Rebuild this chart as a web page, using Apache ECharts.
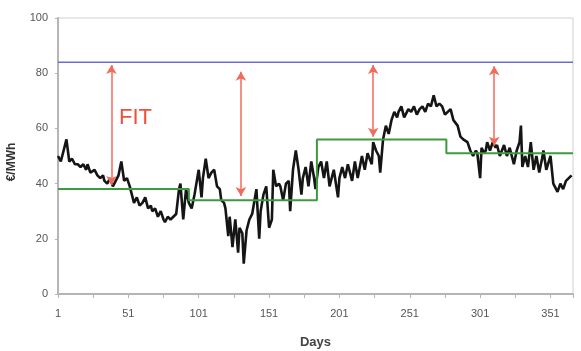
<!DOCTYPE html>
<html><head><meta charset="utf-8">
<script src="https://cdn.jsdelivr.net/npm/echarts@6/dist/echarts.min.js"></script>
<style>html,body{margin:0;padding:0;background:#fff}#c{width:581px;height:351px}</style>
</head><body><div id="c"></div>
<script>
const priceDays = [1,3,5,7,9,11,13,15,17,19,21,22,24,25,27,29,31,33,34,36,38,40,42,44,46,48,50,52,53,55,57,59,61,63,65,67,68,70,72,74,76,77,79,81,83,85,87,88,90,92,94,96,98,101,103,104,106,108,110,112,114,116,117,119,120,122,123,125,127,129,130,132,133,135,137,139,140,142,144,145,147,149,151,153,154,156,158,159,161,163,165,166,168,170,172,174,175,177,179,181,183,184,186,188,190,192,194,197,200,201,203,205,207,210,212,214,217,219,221,224,225,227,229,230,232,234,236,238,240,242,243,245,247,250,252,254,256,258,260,262,264,266,268,270,272,274,276,278,280,282,285,287,289,292,294,296,298,299,301,302,304,305,306,308,310,312,313,315,318,320,322,324,325,327,329,330,331,333,335,337,339,341,343,345,346,348,351,353,355,356,358,360,362,364,366];
const priceVals = [50,48,52,56,48,49,47,47,46,47,45,47,44,44,45,43,42,43,41,40,42,39,41,43,48,41,42,39,37,33,35,32,33,35,31,32,30,31,28,30,27,26,28,27,28,29,38,40,27,38,33,31,36,45,35,42,49,42,44,45,39,38,34,33,31,21,28,17,27,15,24,22,11,23,27,29,32,38,20,30,36,39,24,27,45,39,40,39,34,40,41,30,45,52,45,36,42,46,39,48,42,38,46,48,42,48,39,45,35,42,46,42,47,41,48,42,50,45,51,47,55,52,50,44,56,61,58,63,66,64,66,68,64,67,66,68,65,67,68,66,69,68,72,68,69,68,65,66,67,63,61,57,56,55,52,50,52,51,42,53,51,52,55,52,55,53,54,50,54,50,53,49,47,52,55,61,46,50,46,55,45,50,44,49,52,45,50,40,38,37,40,38,41,42,43];
const fitDays = [1,94,185,277,367];
const fitLevels = [38,34,56,51,51];
const fitTariff = 84;
const arrowDays = [39,131,225,311];
const arrowTop = [83,80.5,83,82.5];
const arrowBottom = [39.5,35.5,57,53.7];
const yTicks = [0,20,40,60,80,100];

const chart = echarts.init(document.getElementById('c'));
const font = 'Liberation Sans, Arial, sans-serif';
chart.setOption({
  animation:false,
  grid:{left:58,right:8,top:18,bottom:57,show:true,borderColor:'#d0d0d0',borderWidth:1,outerBoundsMode:'none',containLabel:false},
  xAxis:{type:'value',min:1,max:367,interval:25,
    name:'Days',nameLocation:'middle',nameGap:42,
    nameTextStyle:{color:'#444',fontSize:13,fontWeight:'bold',fontFamily:font},
    axisLine:{lineStyle:{color:'#b5b5b5',width:2}},
    axisTick:{length:4,lineStyle:{color:'#b5b5b5'}},
    splitLine:{show:false},
    axisLabel:{color:'#555',fontSize:11,fontFamily:font,margin:14,
      formatter:v=>((v-1)%50===0 && v<=351)?String(v):''}},
  yAxis:{type:'value',min:0,max:100,interval:20,
    name:'€/MWh',nameLocation:'middle',nameGap:40,nameRotate:90,
    nameTextStyle:{color:'#333',fontSize:12,fontWeight:'bold',fontFamily:font,padding:[0,0,0,-12]},
    axisLine:{show:true,lineStyle:{color:'#b5b5b5',width:2}},
    axisTick:{show:true,length:3,lineStyle:{color:'#b5b5b5'}},splitLine:{show:false},
    axisLabel:{color:'#555',fontSize:11,fontFamily:font,margin:10,
      formatter:v=>yTicks.includes(v)?String(v):''}},
  series:[
    {type:'line',data:[[1,fitTariff],[367,fitTariff]],symbol:'none',
      lineStyle:{color:'#6b6be0',width:1.5},z:2},
    {type:'line',data:priceDays.map((d,i)=>[d,priceVals[i]]),symbol:'none',
      lineStyle:{color:'#151515',width:2.6},z:3},
    {type:'line',step:'end',data:fitDays.map((d,i)=>[d,fitLevels[i]]),symbol:'none',
      lineStyle:{color:'#3e9a3e',width:2},z:4},
    {type:'line',data:[],symbol:'none',z:5,
      markLine:{silent:true,symbol:['arrow','arrow'],symbolSize:[8,9],
        label:{show:false},
        lineStyle:{color:'#f26a5a',width:1.5,type:'solid'},
        itemStyle:{color:'#ee2a1a'},
        data:arrowDays.map((d,i)=>[{coord:[d,arrowTop[i]],itemStyle:{color:'#ee2a1a'}},{coord:[d,arrowBottom[i]]}])}}
  ],
  graphic:[{type:'text',left:119,top:107,style:{text:'FIT',fill:'#f0503a',font:'22px '+font}}]
});
</script></body></html>
